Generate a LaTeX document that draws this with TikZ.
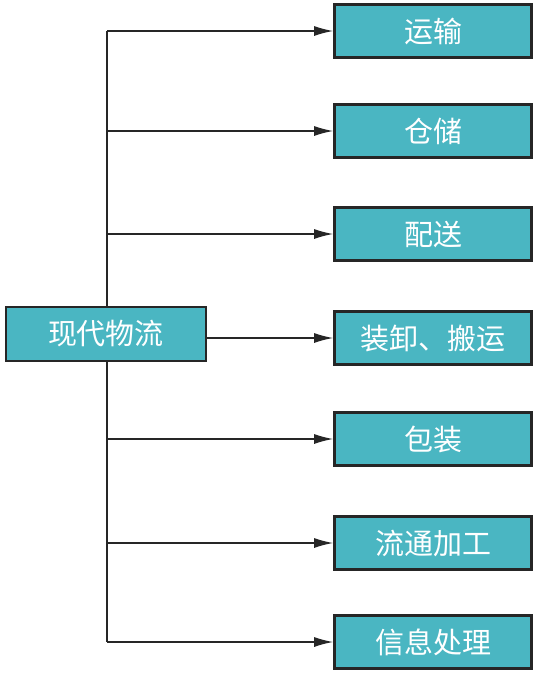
\documentclass[tikz,border=0pt]{standalone}
\usepackage{fontspec}
\newfontfamily\cjk{Noto Sans CJK SC}
\usetikzlibrary{arrows.meta}
\definecolor{boxteal}{HTML}{4AB6C2}
\definecolor{boxedge}{HTML}{262626}
\tikzset{
  itembox/.style={draw=boxedge, line width=2.6pt, fill=boxteal, minimum width=197pt, minimum height=53pt, inner sep=0pt, text=white, font=\cjk\fontsize{29pt}{32pt}\selectfont, anchor=center},
  conn/.style={draw=black!85, line width=1.4pt},
  arr/.style={conn, -{Latex[length=19pt,width=10pt]}}
}
\begin{document}
\begin{tikzpicture}[x=1pt,y=-1pt]
\useasboundingbox (0,0) rectangle (540,673);
\node[itembox, minimum width=200pt, minimum height=54pt] (root) at (106,334) {现代物流};
\node[itembox] (a) at (433,31) {运输};
\node[itembox] (b) at (433,131) {仓储};
\node[itembox] (c) at (433,234) {配送};
\node[itembox] (d) at (433,338) {装卸、搬运};
\node[itembox] (e) at (433,439) {包装};
\node[itembox] (f) at (433,543) {流通加工};
\node[itembox] (g) at (433,642) {信息处理};
\coordinate (trunk) at (107,0);
\draw[conn] (root.north -| trunk) -- (trunk |- a.west);
\draw[conn] (root.south -| trunk) -- (trunk |- g.west);
\draw[arr] (trunk |- a.west) -- (a.west);
\draw[arr] (trunk |- b.west) -- (b.west);
\draw[arr] (trunk |- c.west) -- (c.west);
\draw[arr] (root.east |- d.west) -- (d.west);
\draw[arr] (trunk |- e.west) -- (e.west);
\draw[arr] (trunk |- f.west) -- (f.west);
\draw[arr] (trunk |- g.west) -- (g.west);
\end{tikzpicture}
\end{document}
